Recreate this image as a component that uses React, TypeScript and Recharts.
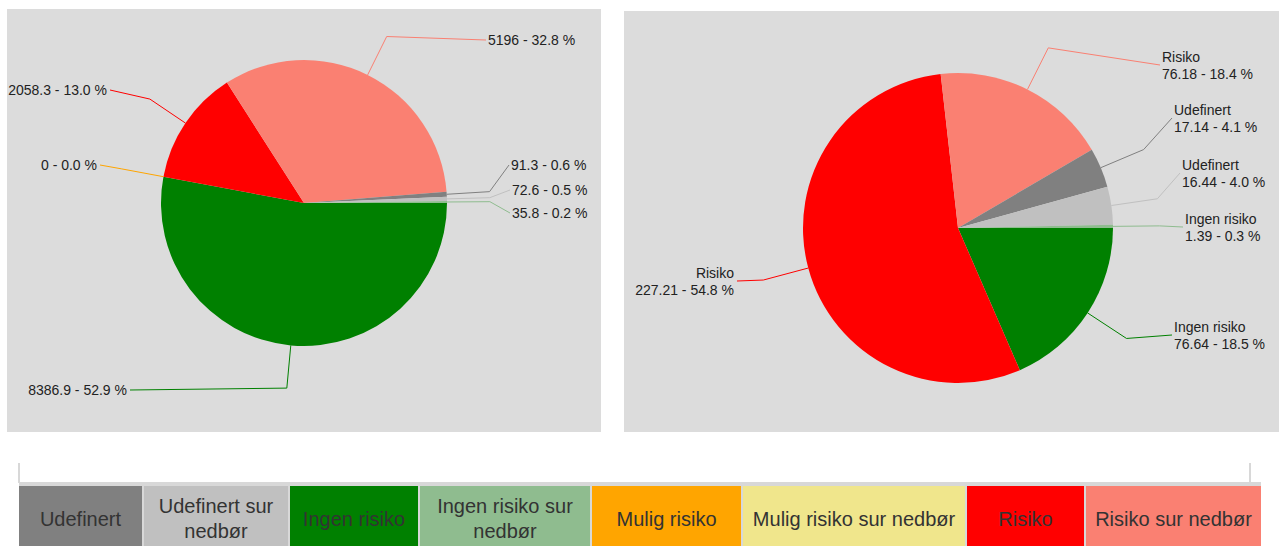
import React from 'react';
import { PieChart, Pie, Cell } from 'recharts';

// ---- Left pie (clockwise from 3 o'clock) ----
const leftNames = ['Ingen risiko', 'Mulig risiko', 'Risiko', 'Risiko sur nedbør', 'Udefinert', 'Udefinert sur nedbør', 'Ingen risiko sur nedbør'];
const leftValues = [8386.9, 0, 2058.3, 5196, 91.3, 72.6, 35.8];
const leftPercents = [52.9, 0.0, 13.0, 32.8, 0.6, 0.5, 0.2];
const leftColors = ['#008000', '#ffa500', '#ff0000', '#fa8072', '#808080', '#c0c0c0', '#8fbc8f'];

// ---- Right pie (clockwise from 3 o'clock) ----
const rightNames = ['Ingen risiko', 'Risiko', 'Risiko', 'Udefinert', 'Udefinert', 'Ingen risiko'];
const rightValues = [76.64, 227.21, 76.18, 17.14, 16.44, 1.39];
const rightPercents = [18.5, 54.8, 18.4, 4.1, 4.0, 0.3];
const rightColors = ['#008000', '#ff0000', '#fa8072', '#808080', '#c0c0c0', '#8fbc8f'];

// ---- Legend ----
const legendNames = ['Udefinert', 'Udefinert sur nedbør', 'Ingen risiko', 'Ingen risiko sur nedbør', 'Mulig risiko', 'Mulig risiko sur nedbør', 'Risiko', 'Risiko sur nedbør'];
const legendColors = ['#808080', '#c0c0c0', '#008000', '#8fbc8f', '#ffa500', '#f0e68c', '#ff0000', '#fa8072'];

// ---- Layout (label anchor offsets relative to pie centre) ----
const leftLabelPos: [number, number][] = [[-177, 187], [-207, -38], [-197, -113], [184, -163], [207, -38], [208, -13], [208, 10]];
const rightLabelPos: [number, number][] = [[216, 107], [-224, 53], [204, -163], [216, -110], [224, -55], [227, -1]];
const legendCellWidths = [123, 144, 128, 170, 149, 222, 117, 175];

const FONT = '"Liberation Sans", Arial, Helvetica, sans-serif';
const RAD = Math.PI / 180;
const NO_MARGIN = { top: 0, right: 0, bottom: 0, left: 0 };

function polar(cx: number, cy: number, r: number, angle: number) {
  return { x: cx + Math.cos(-angle * RAD) * r, y: cy + Math.sin(-angle * RAD) * r };
}

function makeLabel(pos: [number, number][], colors: string[], percents: number[], names: string[] | null) {
  return (props: any) => {
    const { cx, cy, midAngle, outerRadius, index, value } = props;
    const e = polar(cx, cy, outerRadius, midAngle);
    const b = polar(cx, cy, outerRadius * 1.3, midAngle);
    const [dx, dy] = pos[index];
    const tx = cx + dx;
    const ty = cy + dy;
    const left = dx < 0;
    const lx = left ? tx + 3 : tx - 2;
    const txt = `${value} - ${percents[index].toFixed(1)} %`;
    return (
      <g key={`lab-${index}`}>
        <polyline
          points={`${e.x},${e.y} ${b.x},${b.y} ${lx},${ty}`}
          fill="none"
          stroke={colors[index]}
          strokeWidth={1}
        />
        {names ? (
          <text x={tx} textAnchor={left ? 'end' : 'start'} fontFamily={FONT} fontSize={14} fill="#222">
            <tspan x={tx} y={ty - 8.5} dominantBaseline="central">{names[index]}</tspan>
            <tspan x={tx} y={ty + 8.5} dominantBaseline="central">{txt}</tspan>
          </text>
        ) : (
          <text x={tx} y={ty} textAnchor={left ? 'end' : 'start'} dominantBaseline="central" fontFamily={FONT} fontSize={14} fill="#222">
            {txt}
          </text>
        )}
      </g>
    );
  };
}

const leftData = leftValues.map((v, i) => ({ name: leftNames[i], value: v }));
const rightData = rightValues.map((v, i) => ({ name: rightNames[i], value: v }));

export default function App() {
  return (
    <div style={{ position: 'absolute', left: 0, top: 0, width: 1279, height: 546, overflow: 'hidden', background: '#fff', fontFamily: FONT }}>
      <div style={{ position: 'absolute', left: 7, top: 9, width: 594, height: 423, background: '#dcdcdc' }}>
        <PieChart width={594} height={423} margin={NO_MARGIN}>
          <Pie
            data={leftData}
            dataKey="value"
            nameKey="name"
            cx={297}
            cy={194}
            outerRadius={143}
            startAngle={0}
            endAngle={-360}
            stroke="none"
            isAnimationActive={false}
            labelLine={false}
            label={makeLabel(leftLabelPos, leftColors, leftPercents, null)}
          >
            {leftData.map((d, i) => (
              <Cell key={i} fill={leftColors[i]} />
            ))}
          </Pie>
        </PieChart>
      </div>
      <div style={{ position: 'absolute', left: 624, top: 11, width: 655, height: 421, background: '#dcdcdc' }}>
        <PieChart width={655} height={421} margin={NO_MARGIN}>
          <Pie
            data={rightData}
            dataKey="value"
            nameKey="name"
            cx={334}
            cy={217}
            outerRadius={155}
            startAngle={0}
            endAngle={-360}
            stroke="none"
            isAnimationActive={false}
            labelLine={false}
            label={makeLabel(rightLabelPos, rightColors, rightPercents, rightNames)}
          >
            {rightData.map((d, i) => (
              <Cell key={i} fill={rightColors[i]} />
            ))}
          </Pie>
        </PieChart>
      </div>
      {/* legend */}
      <div style={{ position: 'absolute', left: 18, top: 463, width: 1229, height: 20, borderLeft: '2px solid #d8d8d8', borderRight: '2px solid #d8d8d8' }} />
      <div
        style={{
          position: 'absolute',
          left: 19,
          top: 482,
          width: 1242,
          height: 70,
          background: '#d8d8d8',
          display: 'flex',
          gap: 2,
          paddingTop: 4,
          boxSizing: 'border-box',
        }}
      >
        {legendNames.map((n, i) => (
          <div
            key={n}
            style={{
              width: legendCellWidths[i],
              height: 66,
              background: legendColors[i],
              display: 'flex',
              alignItems: 'center',
              justifyContent: 'center',
              textAlign: 'center',
              fontSize: 20,
              lineHeight: '25px',
              color: '#333',
              padding: '0 6px',
              boxSizing: 'border-box',
            }}
          >
            {n}
          </div>
        ))}
      </div>
    </div>
  );
}
